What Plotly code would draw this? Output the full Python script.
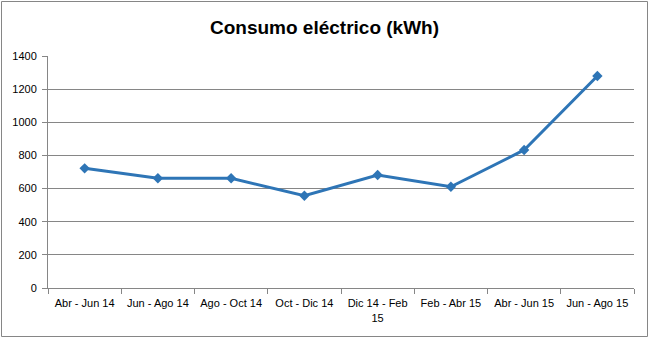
import plotly.graph_objects as go

categories = ["Abr - Jun 14", "Jun - Ago 14", "Ago - Oct 14", "Oct - Dic 14",
              "Dic 14 - Feb 15", "Feb - Abr 15", "Abr - Jun 15", "Jun - Ago 15"]
tick_labels = ["Abr - Jun 14", "Jun - Ago 14", "Ago - Oct 14", "Oct - Dic 14",
               "Dic 14 - Feb<br>15", "Feb - Abr 15", "Abr - Jun 15", "Jun - Ago 15"]
consumo = [722, 662, 662, 557, 682, 611, 833, 1279]
y_ticks = [0, 200, 400, 600, 800, 1000, 1200, 1400]

W, H = 649, 338
ml, mr, mt, mb = 48, 15, 56, 50
pw, ph = W - ml - mr, H - mt - mb

fig = go.Figure(go.Scatter(
    x=categories, y=consumo, mode="lines+markers",
    line=dict(color="#2E75B6", width=3),
    marker=dict(symbol="diamond", size=8, color="#2E75B6"),
))

fig.update_layout(
    width=W, height=H,
    margin=dict(l=ml, r=mr, t=mt, b=mb),
    paper_bgcolor="white", plot_bgcolor="white",
    showlegend=False,
    font=dict(family="Liberation Sans, Arial, sans-serif", size=11, color="#000000"),
    title=dict(text="<b>Consumo eléctrico (kWh)</b>", x=0.5, xanchor="center",
               y=1 - 27 / H, yanchor="middle",
               font=dict(size=19, color="#000000")),
    xaxis=dict(
        type="category", tickmode="array", tickvals=categories, ticktext=tick_labels,
        tickson="boundaries", ticks="outside", ticklen=5, tickcolor="#868686",
        ticklabelstandoff=5,
        showline=True, linecolor="#868686", linewidth=1,
        showgrid=False, range=[-0.5, len(categories) - 0.5],
    ),
    yaxis=dict(
        range=[0, 1400], tickmode="array", tickvals=y_ticks,
        ticks="outside", ticklen=5, tickcolor="#868686",
        ticklabelstandoff=3,
        showline=True, linecolor="#868686", linewidth=1,
        showgrid=True, gridcolor="#868686", gridwidth=1,
        zeroline=False,
    ),
    shapes=[dict(
        type="rect", xref="paper", yref="paper",
        x0=-(ml - 1.5) / pw, x1=1 + (mr - 1.5) / pw,
        y0=-(mb - 1.5) / ph, y1=1 + (mt - 1.5) / ph,
        line=dict(color="#868686", width=1), fillcolor="rgba(0,0,0,0)",
        layer="below",
    )],
)

fig.write_html("out.html")
